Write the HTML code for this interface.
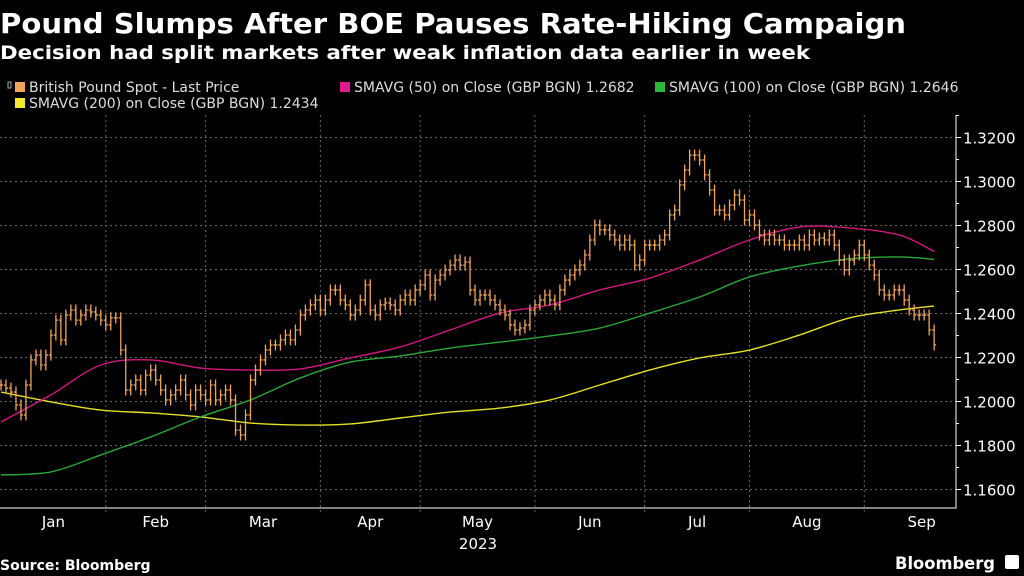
<!DOCTYPE html>
<html><head><meta charset="utf-8"><style>
html,body{margin:0;padding:0;background:#000;}
svg{display:block;font-family:"DejaVu Sans","Liberation Sans",sans-serif;}
</style></head><body>
<svg id="c" width="1024" height="576" viewBox="0 0 1024 576">
<rect width="1024" height="576" fill="#000"/>
<text x="0" y="33" fill="#fff" font-size="28" font-weight="bold" textLength="906" lengthAdjust="spacingAndGlyphs">Pound Slumps After BOE Pauses Rate-Hiking Campaign</text>
<text x="0" y="59" fill="#fff" font-size="19" font-weight="bold" textLength="810" lengthAdjust="spacingAndGlyphs">Decision had split markets after weak inflation data earlier in week</text>
<g font-size="14" fill="#ddd">
 <g><rect x="8" y="82" width="3" height="6" fill="none" stroke="#aaa"/><rect x="15" y="82" width="10" height="10" fill="#f0a45c"/><text x="29" y="92">British Pound Spot - Last Price</text></g>
 <g><rect x="340" y="82" width="10" height="10" fill="#e0198c"/><text x="354" y="92">SMAVG (50)  on Close (GBP BGN) 1.2682</text></g>
 <g><rect x="655" y="82" width="10" height="10" fill="#2db83a"/><text x="669" y="92">SMAVG (100)  on Close (GBP BGN) 1.2646</text></g>
 <g><rect x="15" y="98" width="10" height="10" fill="#f2ea30"/><text x="29" y="108">SMAVG (200)  on Close (GBP BGN) 1.2434</text></g>
</g>
<g id="grid"></g>
<g id="axes"></g>
<g id="marks"></g>
<text x="0" y="570" fill="#fff" font-size="14" font-weight="bold">Source: Bloomberg</text>
<text x="895" y="569" fill="#fff" font-size="17" font-weight="bold" textLength="100" lengthAdjust="spacingAndGlyphs">Bloomberg</text>
<rect x="1005" y="555" width="14" height="14" rx="2" fill="#fff"/>
</svg>
<script>
const closes=[1.2075,1.2061,1.2043,1.1984,1.1939,1.2075,1.2189,1.2211,1.2166,1.2211,1.2302,1.2370,1.2280,1.2393,1.2416,1.2370,1.2393,1.2416,1.2407,1.2393,1.2370,1.2348,1.2380,1.2380,1.2234,1.2052,1.2075,1.2098,1.2052,1.2120,1.2143,1.2098,1.2052,1.2007,1.2030,1.2052,1.2098,1.2030,1.1984,1.2052,1.2030,1.2007,1.2075,1.2007,1.2030,1.2052,1.2007,1.1870,1.1848,1.1939,1.2098,1.2143,1.2189,1.2234,1.2257,1.2257,1.2280,1.2302,1.2280,1.2325,1.2393,1.2416,1.2439,1.2461,1.2416,1.2461,1.2507,1.2507,1.2461,1.2439,1.2393,1.2416,1.2461,1.2530,1.2416,1.2393,1.2439,1.2448,1.2439,1.2416,1.2461,1.2484,1.2461,1.2507,1.2530,1.2575,1.2484,1.2552,1.2575,1.2598,1.2620,1.2643,1.2620,1.2634,1.2507,1.2461,1.2484,1.2484,1.2461,1.2439,1.2416,1.2393,1.2348,1.2325,1.2334,1.2348,1.2416,1.2439,1.2461,1.2484,1.2461,1.2439,1.2507,1.2552,1.2575,1.2598,1.2620,1.2666,1.2734,1.2802,1.2780,1.2780,1.2757,1.2734,1.2711,1.2734,1.2711,1.2620,1.2643,1.2711,1.2711,1.2711,1.2734,1.2757,1.2848,1.2870,1.2984,1.3052,1.3120,1.3120,1.3098,1.3030,1.2961,1.2870,1.2870,1.2848,1.2893,1.2939,1.2916,1.2825,1.2848,1.2802,1.2757,1.2734,1.2757,1.2734,1.2734,1.2711,1.2711,1.2711,1.2734,1.2711,1.2757,1.2734,1.2743,1.2734,1.2757,1.2711,1.2643,1.2598,1.2643,1.2666,1.2711,1.2666,1.2620,1.2575,1.2507,1.2484,1.2484,1.2507,1.2507,1.2461,1.2416,1.2393,1.2393,1.2393,1.2325,1.2257];
const maDays=[0,10,20,30,40,50,60,70,80,90,100,110,120,130,140,150,160,170,180,187];
const sma200=[1.2043,1.1998,1.1961,1.1948,1.1930,1.1902,1.1893,1.1898,1.1925,1.1952,1.1970,1.2007,1.2075,1.2143,1.2198,1.2234,1.2302,1.2380,1.2416,1.2434];
const sma50=[1.1907,1.2030,1.2166,1.2189,1.2152,1.2143,1.2148,1.2198,1.2248,1.2325,1.2402,1.2439,1.2507,1.2561,1.2643,1.2734,1.2793,1.2789,1.2757,1.2682];
const sma100=[1.1666,1.1680,1.1757,1.1839,1.1930,1.2007,1.2107,1.2179,1.2207,1.2243,1.2270,1.2298,1.2334,1.2402,1.2475,1.2566,1.2616,1.2648,1.2657,1.2646];
const yTicks=[1.16,1.18,1.20,1.22,1.24,1.26,1.28,1.30,1.32];
const months=["Jan","Feb","Mar","Apr","May","Jun","Jul","Aug","Sep"];
const monthStartDay=[0,21,41,64,84,107,129,150,173];
const NS="http://www.w3.org/2000/svg";
const xS=d=>1+d*4.99;
const yS=v=>181.5+(1.30-v)*2200;
function mk(tag,attrs,parent){const e=document.createElementNS(NS,tag);for(const k in attrs)e.setAttribute(k,attrs[k]);parent.appendChild(e);return e;}
const grid=document.getElementById('grid'),axes=document.getElementById('axes'),marks=document.getElementById('marks');
yTicks.forEach(t=>{
 const y=yS(t);
 const l=mk('line',{x1:0,x2:956,y1:y,y2:y,stroke:'#666','stroke-dasharray':'2,3','stroke-width':1},grid);
 
 
 const tk=mk('line',{x1:956,x2:961,y1:y,y2:y,stroke:'#fff'},axes);
 
 
 const tx=mk('text',{x:963,y:y+6,fill:'#fff','font-size':15},axes);tx.textContent=t.toFixed(4);
 
 
 const mt=mk('line',{x1:956,x2:959,y1:yS(t+0.01),y2:yS(t+0.01),stroke:'#fff'},axes);
 
 
});
months.forEach((m,i)=>{
 const x0=xS(monthStartDay[i]);const x1=i+1<months.length?xS(monthStartDay[i+1]):xS(closes.length+8);
 if(i>0){const g=mk('line',{x1:x0,x2:x0,y1:115,y2:512,stroke:'#666','stroke-dasharray':'2,3'},grid);
 
 }
 const tx=mk('text',{x:(x0+x1)/2,y:527,fill:'#fff','font-size':15,'text-anchor':'middle'},axes);tx.textContent=m;
 
 
});
const yr=mk('text',{x:478,y:549,fill:'#fff','font-size':15,'text-anchor':'middle'},axes);yr.textContent='2023';


const ax=mk('path',{d:'M0 508H956V115',fill:'none',stroke:'#fff','stroke-width':1},axes);


function maLine(vals,color,name){
 const pts=vals.map((v,i)=>[xS(maDays[i]),yS(v)]);
 let d='M'+pts[0][0]+' '+pts[0][1];
 for(let i=0;i<pts.length-1;i++){
  const p0=pts[Math.max(0,i-1)],p1=pts[i],p2=pts[i+1],p3=pts[Math.min(pts.length-1,i+2)];
  const c1=[p1[0]+(p2[0]-p0[0])/6,p1[1]+(p2[1]-p0[1])/6],c2=[p2[0]-(p3[0]-p1[0])/6,p2[1]-(p3[1]-p1[1])/6];
  d+=`C${c1[0]} ${c1[1]} ${c2[0]} ${c2[1]} ${p2[0]} ${p2[1]}`;
 }
 const p=mk('path',{d:d,fill:'none',stroke:color,'stroke-width':1.4},marks);
 
 
}
maLine(sma200,'#e6df2a','sma200-line');
maLine(sma100,'#2aa838','sma100-line');
maLine(sma50,'#d4177f','sma50-line');
closes.forEach((c,i)=>{
 const o=i>0?closes[i-1]:c;const hi=Math.max(o,c)+0.0025,lo=Math.min(o,c)-0.0025;const x=xS(i);
 const g=mk('path',{d:`M${x} ${yS(hi)}V${yS(lo)}M${x-2} ${yS(o)}H${x}M${x} ${yS(c)}H${x+2}`,stroke:'#f0a45c','stroke-width':1.3,fill:'none'},marks);
 
 
});
</script>
</body></html>
